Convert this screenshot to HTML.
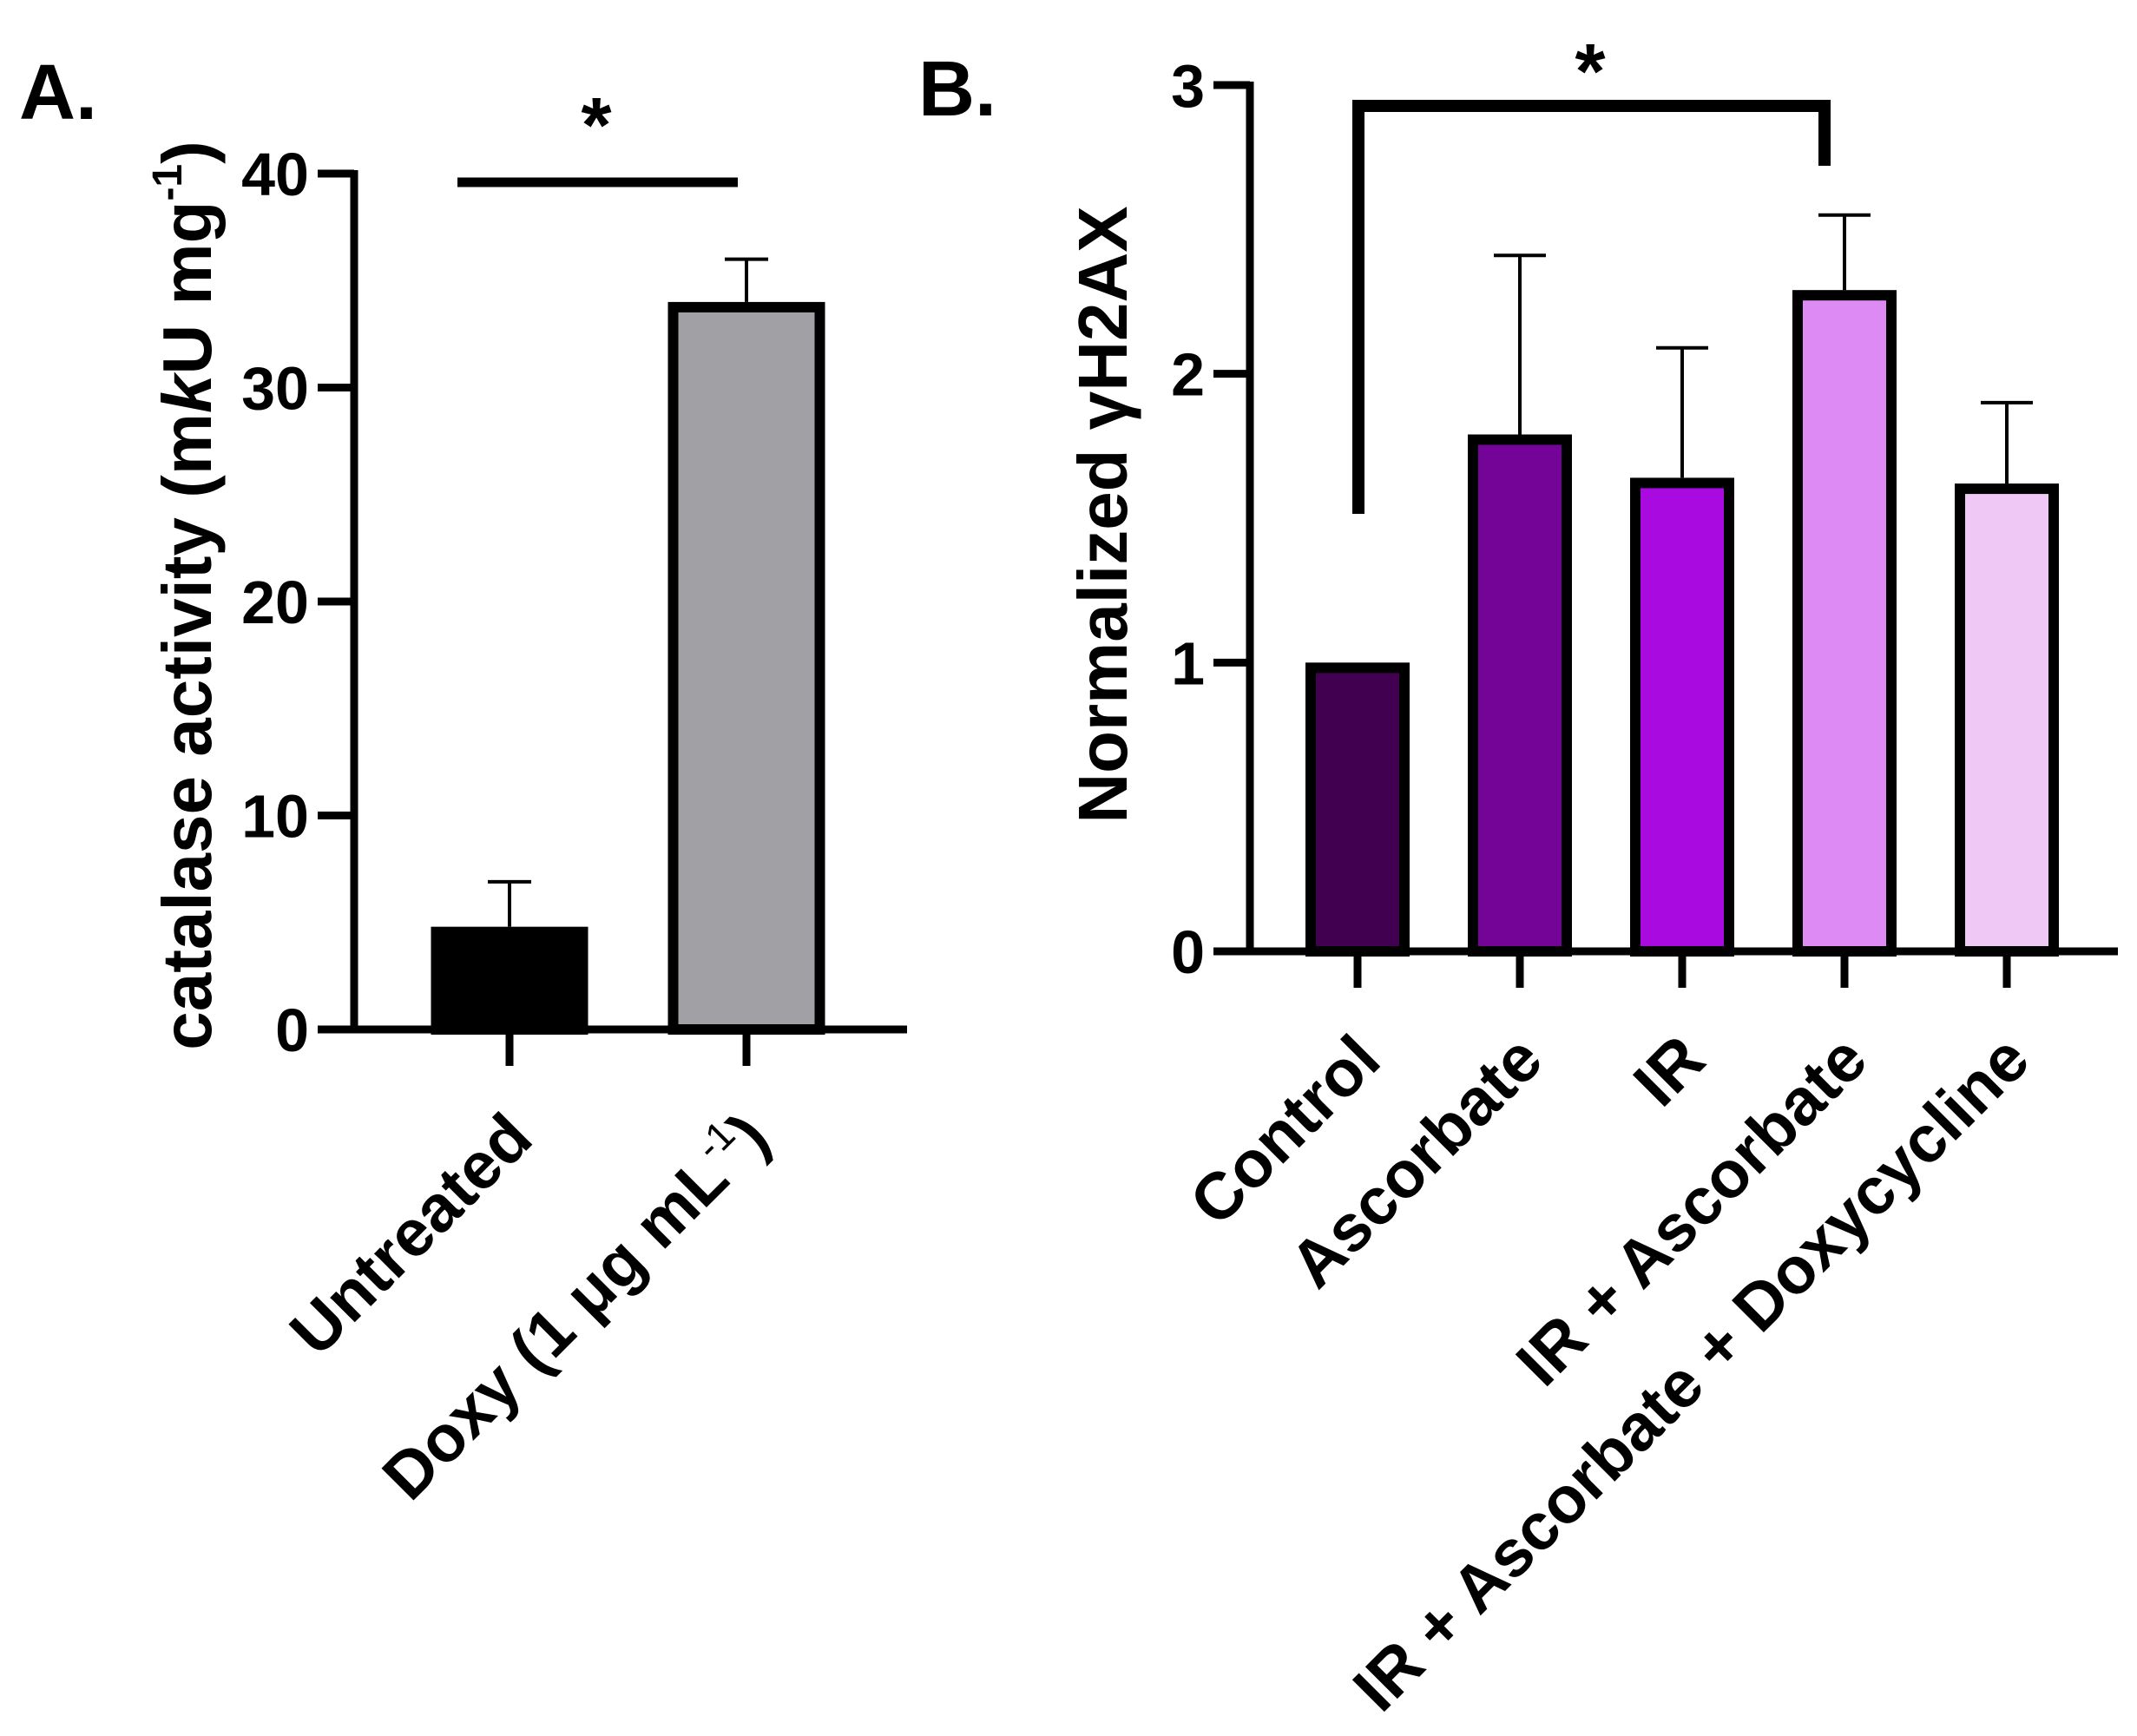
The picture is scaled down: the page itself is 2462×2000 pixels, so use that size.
<!DOCTYPE html>
<html><head><meta charset="utf-8"><style>
html,body{margin:0;padding:0;background:#fff}
svg{display:block;font-family:"Liberation Sans",Arial,sans-serif;font-weight:bold}
</style></head><body>
<svg id="fig" width="2462" height="2000" viewBox="0 0 2462 2000" xmlns="http://www.w3.org/2000/svg">
<text x="22" y="137" font-size="90">A.</text>
<text x="1058" y="133" font-size="90">B.</text>
<g id="pa"></g>
<g id="pb"></g>
</svg>
<script>
const NS="http://www.w3.org/2000/svg";
// Panel A data
const aCategories=["Untreated","Doxy (1 μg mL⁻¹)"];
const aValues=[4.8,34.0];
const aErrors=[2.1,2.0];
const aTicks=[0,10,20,30,40];
const aColors=["#000000","#a1a0a5"];
// Panel B data
const bCategories=["Control","Ascorbate","IR","IR + Ascorbate","IR + Ascorbate + Doxycycline"];
const bValues=[1.0,1.79,1.64,2.29,1.62];
const bErrors=[0,0.62,0.45,0.26,0.28];
const bTicks=[0,1,2,3];
const bColors=["#420050","#730497","#a80ae0","#de8af4","#f0c8f6"];

function mk(parent,tag,attrs){const e=document.createElementNS(NS,tag);for(const k in attrs)e.setAttribute(k,attrs[k]);parent.appendChild(e);return e;}

function drawPanel(g,cfg){
  const ys=v=>cfg.y0-(v-0)/(cfg.ymax)*(cfg.y0-cfg.ytop);
  const xc=i=>cfg.x0c+i*cfg.step;
  let e=mk(g,'line',{x1:cfg.ax,y1:ys(cfg.ymax)-4,x2:cfg.ax,y2:cfg.y0+4,stroke:'#000','stroke-width':9});
  
  
  e=mk(g,'line',{x1:cfg.tickL,y1:cfg.y0,x2:cfg.axR,y2:cfg.y0,stroke:'#000','stroke-width':9});
  
  
  cfg.ticks.forEach(t=>{
    const y=ys(t);
    let l=mk(g,'line',{x1:cfg.tickL,y1:y,x2:cfg.ax,y2:y,stroke:'#000','stroke-width':9});
    
    
    let tx=mk(g,'text',{x:cfg.tickL-10,y:y+25,'font-size':70,'text-anchor':'end'});
    tx.textContent=t;
    
    
  });
  cfg.values.forEach((v,i)=>{
    const c=xc(i),w=cfg.bw,top=ys(v);
    const r=mk(g,'rect',{x:c-w/2+6,y:top+6,width:w-12,height:cfg.y0-top-6,fill:cfg.colors[i],stroke:'#000','stroke-width':12});
    
    
    if(cfg.errors[i]>0){
      const ye=ys(v+cfg.errors[i]);
      const el=mk(g,'path',{d:`M${c},${top} V${ye} M${c-cfg.cap/2},${ye} H${c+cfg.cap/2}`,stroke:'#000','stroke-width':4,fill:'none'});
      
      
    }
    const tk=mk(g,'line',{x1:c,y1:cfg.y0,x2:c,y2:cfg.y0+42,stroke:'#000','stroke-width':9});
    
    
    const lx=c+30,ly=cfg.y0+129;
    const tx=mk(g,'text',{x:lx,y:ly,'font-size':76,'text-anchor':'end',transform:`rotate(-45 ${lx} ${ly})`});
    const lab=cfg.cats[i];
    if(lab.indexOf('⁻¹')>=0){
      const base=lab.replace('⁻¹)','');
      const t1=mk(tx,'tspan',{});t1.textContent=base;
      const t2=mk(tx,'tspan',{'font-size':46,dy:-32,'font-weight':'normal'});t2.textContent='-1';
      const t3=mk(tx,'tspan',{dy:32});t3.textContent=')';
    } else tx.textContent=lab;
    
    
  });
  return ys;
}

const pa=document.getElementById('pa');
drawPanel(pa,{y0:1186,ytop:200,ymax:40,ax:408,tickL:366,axR:1045,x0c:587,step:273,bw:181,cap:50,
  values:aValues,errors:aErrors,ticks:aTicks,colors:aColors,cats:aCategories});
const pb=document.getElementById('pb');
drawPanel(pb,{y0:1096,ytop:98,ymax:3,ax:1440,tickL:1398,axR:2440,x0c:1564,step:187,bw:120,cap:60,
  values:bValues,errors:bErrors,ticks:bTicks,colors:bColors,cats:bCategories});

let t=mk(pa,'text',{x:0,y:0,'font-size':80,'text-anchor':'middle',transform:'translate(243 686) rotate(-90)'});
let s1=mk(t,'tspan',{});s1.textContent='catalase activity (m';
let s2=mk(t,'tspan',{'font-style':'italic'});s2.textContent='k';
let s3=mk(t,'tspan',{});s3.textContent='U mg';
let s4=mk(t,'tspan',{'font-size':48,dy:-34});s4.textContent='-1';
let s5=mk(t,'tspan',{dy:34});s5.textContent=')';


t=mk(pb,'text',{x:0,y:0,'font-size':80,'text-anchor':'middle',transform:'translate(1298 593) rotate(-90)'});
t.textContent='Normalized γH2AX';



let sg=mk(pa,'line',{x1:527,y1:210,x2:850,y2:210,stroke:'#000','stroke-width':11});


let st=mk(pa,'text',{x:687,y:175,'font-size':90,'text-anchor':'middle'});st.textContent='*';


sg=mk(pb,'path',{d:'M1565,592 V122 H2102 V191',stroke:'#000','stroke-width':14,fill:'none'});


st=mk(pb,'text',{x:1832,y:113,'font-size':90,'text-anchor':'middle'});st.textContent='*';


</script>
</body></html>
